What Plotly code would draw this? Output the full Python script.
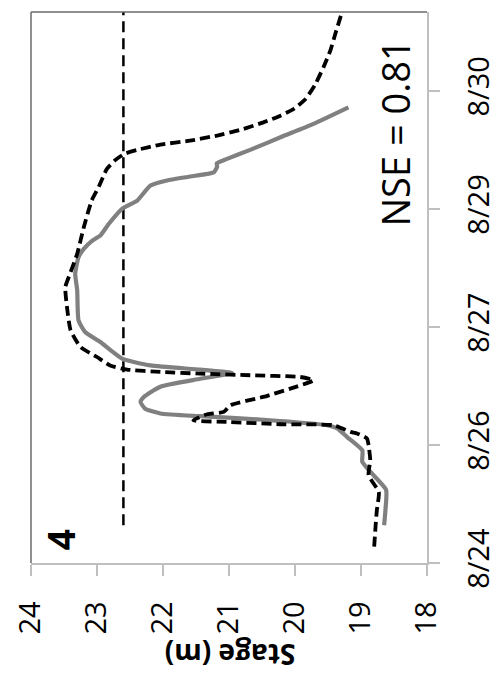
import plotly.graph_objects as go

# Dates expressed as fractional day of August
obs_day = [24.98, 25.17, 25.43, 25.66, 25.785, 25.93, 26.10, 26.21, 26.25, 26.32, 26.365, 26.40,
           26.46, 26.546, 26.61, 26.74, 26.84, 26.914, 26.957, 27.01, 27.097, 27.307, 27.434,
           27.583, 27.963, 28.175, 28.386, 28.49, 28.59, 28.66, 28.81, 29.0, 29.105, 29.295,
           29.36, 29.41, 29.464, 29.536, 29.578, 29.634, 29.748, 29.908, 30.078, 30.288]
obs_stage = [18.65, 18.63, 18.62, 18.86, 18.98, 18.98, 19.21, 19.36, 19.515, 20.48, 21.435, 22.04,
             22.27, 22.34, 22.29, 22.04, 21.435, 20.955, 21.435, 22.19, 22.62, 22.95, 23.18,
             23.28, 23.30, 23.33, 23.28, 23.20, 23.08, 22.95, 22.82, 22.62, 22.39, 22.19,
             21.94, 21.59, 21.23, 21.18, 21.185, 21.03, 20.68, 20.22, 19.72, 19.19]

sim_day = [24.707, 24.96, 25.17, 25.40, 25.616, 25.807, 25.997, 26.082, 26.145, 26.166, 26.25,
           26.263, 26.29, 26.314, 26.39, 26.42, 26.504, 26.61, 26.716, 26.82, 26.863, 26.885,
           26.906, 26.927, 26.957, 27.01, 27.117, 27.244, 27.456, 27.751, 28.005, 28.195, 28.429,
           28.766, 29.105, 29.274, 29.507, 29.621, 29.697, 29.748, 29.815, 29.866, 29.93, 30.002,
           30.098, 30.183, 30.268, 30.395, 30.585, 30.796, 31.008, 31.22, 31.494, 31.64]
sim_stage = [18.80, 18.78, 18.76, 18.73, 18.885, 18.86, 18.885, 18.91, 19.06, 19.16, 19.415,
             20.22, 20.98, 21.54, 21.33, 21.08, 20.98, 20.48, 20.07, 19.72, 19.92, 20.68,
             21.435, 22.04, 22.545, 22.80, 23.0, 23.25, 23.40, 23.455, 23.48, 23.40, 23.30,
             23.20, 23.08, 22.976, 22.85, 22.72, 22.586, 22.39, 22.04, 21.59, 21.18, 20.83,
             20.48, 20.22, 20.02, 19.84, 19.69, 19.57, 19.465, 19.39, 19.29, 19.24]

flood_day = [24.98, 31.5]
flood_stage = [22.6, 22.6]

stage_ticks = [24, 23, 22, 21, 20, 19, 18]
date_tickvals = [24.5, 26.0, 27.5, 29.0, 30.5]
date_ticktext = ["8/24", "8/26", "8/27", "8/29", "8/30"]

FONT = "Open Sans"

fig = go.Figure()
fig.add_trace(go.Scatter(x=flood_stage, y=flood_day, mode="lines",
                         line=dict(color="black", width=2.5, dash="11px,6px"),
                         showlegend=False, hoverinfo="skip"))
fig.add_trace(go.Scatter(x=obs_stage, y=obs_day, mode="lines",
                         line=dict(color="#808080", width=4.2, shape="spline", smoothing=0.5),
                         showlegend=False))
fig.add_trace(go.Scatter(x=sim_stage, y=sim_day, mode="lines",
                         line=dict(color="black", width=3.8, dash="10px,5px",
                                   shape="spline", smoothing=0.5),
                         showlegend=False))

# The page body adds an 8px margin, so the figure is 8px smaller and offsets are reduced.
fig.update_layout(
    width=492, height=678,
    margin=dict(l=23, r=73, t=4, b=123, autoexpand=False),
    plot_bgcolor="white", paper_bgcolor="white",
    font=dict(family=FONT, color="black"),
    xaxis=dict(range=[24, 18], tickvals=stage_ticks, ticktext=[str(v) for v in stage_ticks],
               tickangle=-90, tickfont=dict(size=29, color="black"), automargin=False,
               showgrid=False, zeroline=False, showline=True, linecolor="#BFBFBF", linewidth=1.5,
               ticks="outside", ticklen=11, tickcolor="#BFBFBF", tickwidth=1.5,
               ticklabelstandoff=14),
    yaxis=dict(range=[24.5, 31.5], side="right", tickvals=date_tickvals, ticktext=date_ticktext,
               tickangle=-90, tickfont=dict(size=29, color="black"), automargin=False,
               showgrid=False, zeroline=False, showline=True, linecolor="#BFBFBF", linewidth=1.5,
               ticks="outside", ticklen=11, tickcolor="#BFBFBF", tickwidth=1.5,
               ticklabelstandoff=14),
    shapes=[
        dict(type="line", xref="paper", yref="paper", x0=0, x1=0, y0=0, y1=1,
             line=dict(color="#6A6A6A", width=1.5)),
        dict(type="line", xref="paper", yref="paper", x0=0, x1=1, y0=1, y1=1,
             line=dict(color="#6A6A6A", width=1.5)),
    ],
    annotations=[
        dict(text="NSE = 0.81", xref="paper", yref="paper", x=0.92, y=0.78,
             textangle=-90, showarrow=False, xanchor="center", yanchor="middle",
             font=dict(size=38, color="black", family=FONT)),
        dict(text="<b>4</b>", xref="paper", yref="paper", x=0.0765, y=0.042,
             textangle=-90, showarrow=False, xanchor="center", yanchor="middle",
             font=dict(size=37, color="black", family=FONT)),
        dict(text="<b>Stage (m)</b>", xref="paper", yref="paper", x=0.503, y=-0.167,
             textangle=180, showarrow=False, xanchor="center", yanchor="middle",
             font=dict(size=28, color="black", family=FONT)),
    ],
)

fig.write_html("out.html")
